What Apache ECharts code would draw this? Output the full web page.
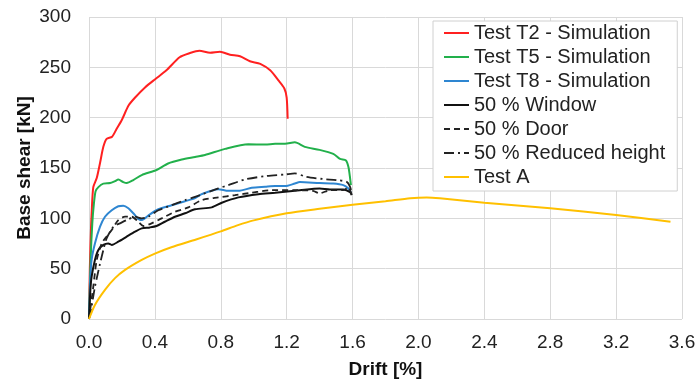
<!DOCTYPE html>
<html>
<head>
<meta charset="utf-8">
<script src="https://cdn.jsdelivr.net/npm/echarts@6/dist/echarts.min.js"></script>
<style>html,body{margin:0;padding:0;background:#fff}#c{width:697px;height:381px}</style>
</head>
<body>
<div id="c"></div>
<script>
const seriesNames = ["Test T2 - Simulation","Test T5 - Simulation","Test T8 - Simulation","50 % Window","50 % Door","50 % Reduced height","Test A"];
const xTicks = [0,0.4,0.8,1.2,1.6,2.0,2.4,2.8,3.2,3.6];
const yTicks = [0,50,100,150,200,250,300];

const testT2 = [[0,0],[0.005,50],[0.012,90],[0.016,105],[0.026,131],[0.047,140],[0.067,155],[0.087,171],[0.107,179],[0.14,181],[0.168,189],[0.2,198],[0.24,212],[0.28,220],[0.34,230],[0.4,238],[0.47,247],[0.55,260],[0.61,264],[0.67,266.5],[0.735,264.5],[0.795,265.5],[0.856,262.5],[0.917,261],[0.977,256],[1.04,253.5],[1.1,247],[1.15,237],[1.186,229],[1.2,220],[1.206,199]];
const testT5 = [[0,0],[0.01,60],[0.02,95],[0.03,115],[0.04,127],[0.057,131],[0.087,134.5],[0.128,135],[0.158,137],[0.178,138.5],[0.208,136],[0.229,135],[0.269,138],[0.32,143],[0.41,148],[0.48,154.5],[0.563,158.4],[0.644,161],[0.704,163],[0.826,169],[0.967,173.5],[1.07,173.3],[1.13,174],[1.19,174],[1.25,175.5],[1.31,171],[1.4,168],[1.483,164],[1.524,159],[1.56,157.5],[1.575,151],[1.585,140],[1.59,133]];
const testT8 = [[0,0],[0.008,40],[0.016,59],[0.036,75],[0.067,91.7],[0.097,101.6],[0.138,108],[0.178,112],[0.208,112.5],[0.239,110],[0.269,105],[0.31,98.3],[0.33,99],[0.37,104],[0.421,109],[0.502,113],[0.583,117],[0.644,120],[0.684,124],[0.785,129],[0.846,127.3],[0.907,127.3],[0.988,130.3],[1.069,131.3],[1.13,132],[1.19,132],[1.25,134.6],[1.28,136],[1.4,135],[1.483,134.6],[1.544,133],[1.575,129.7],[1.589,126]];
const window50 = [[0,0],[0.008,28],[0.016,42],[0.036,58.7],[0.057,68.6],[0.087,73.6],[0.117,75],[0.138,73.6],[0.178,76.8],[0.229,81.8],[0.28,86.7],[0.32,90],[0.37,91],[0.41,92.4],[0.46,96.6],[0.522,101.6],[0.583,105],[0.644,109],[0.745,110.9],[0.806,115.5],[0.907,120.8],[1.028,124],[1.13,125.4],[1.25,127.4],[1.28,128],[1.4,129.7],[1.463,128.7],[1.544,128.7],[1.585,126],[1.595,123]];
const door50 = [[0,0],[0.012,15],[0.026,32],[0.047,58.7],[0.077,75],[0.107,82],[0.138,88.4],[0.178,98.3],[0.219,101.6],[0.259,101.6],[0.3,96.6],[0.33,92.4],[0.38,95],[0.441,100],[0.522,106.5],[0.603,110.9],[0.684,118],[0.785,120.8],[0.886,123],[0.988,125.4],[1.11,128],[1.25,128],[1.36,127.3],[1.4,124.8],[1.463,128],[1.544,128],[1.575,131],[1.595,123]];
const reduced50 = [[0,0],[0.016,12.5],[0.036,32],[0.067,55],[0.087,68.6],[0.107,80],[0.148,91.7],[0.188,95],[0.229,98.3],[0.28,101.6],[0.32,100],[0.36,101.6],[0.421,108],[0.502,113],[0.583,118],[0.644,121.4],[0.785,129.7],[0.846,133],[0.947,138.6],[1.069,141.9],[1.19,143.6],[1.25,144.6],[1.32,141.2],[1.423,139],[1.504,138],[1.565,136.2],[1.585,131.3],[1.595,124.8]];
const testA = [[0,0],[0.036,14],[0.097,29],[0.158,40.6],[0.219,48.8],[0.32,58.7],[0.4,65],[0.5,71.3],[0.65,79],[0.8,87],[0.9,93],[1.0,98],[1.2,105],[1.4,109.5],[1.6,113.5],[1.8,117],[1.95,120],[2.05,120.8],[2.13,120],[2.4,115.5],[2.8,110],[3.2,103.3],[3.53,96.6]];

const dataSets = [testT2,testT5,testT8,window50,door50,reduced50,testA];
const colors = ["#ff2020","#22b04b","#2e86d1","#111111","#222222","#222222","#ffc000"];
const types = ["solid","solid","solid","solid",[6,4],[10,4,2,4],"solid"];
const widths = [2,2,2,2,1.8,1.8,2];

const font = "'Liberation Sans', Arial, sans-serif";
const chart = echarts.init(document.getElementById('c'));
chart.setOption({
  animation:false,
  backgroundColor:'#fff',
  grid:{left:89,right:15,top:17,bottom:62,containLabel:false,outerBoundsMode:'none'},
  xAxis:{type:'value',min:xTicks[0],max:xTicks[xTicks.length-1],interval:0.4,
    name:'Drift [%]',nameLocation:'middle',nameGap:41,nameMoveOverlap:false,
    nameTextStyle:{fontFamily:font,fontSize:19,fontWeight:'bold',color:'#111'},
    axisLine:{show:false},axisTick:{show:false},
    axisLabel:{fontFamily:font,fontSize:19,color:'#222',margin:14,formatter:v=>v.toFixed(1)},
    splitLine:{show:true,lineStyle:{color:'#d9d9d9',width:1}}},
  yAxis:{type:'value',min:yTicks[0],max:yTicks[yTicks.length-1],interval:50,
    name:'Base shear [kN]',nameLocation:'middle',nameGap:55,nameMoveOverlap:false,
    nameTextStyle:{fontFamily:font,fontSize:19,fontWeight:'bold',color:'#111'},
    axisLine:{show:false},axisTick:{show:false},
    axisLabel:{fontFamily:font,fontSize:19,color:'#222',margin:18},
    splitLine:{show:true,lineStyle:{color:'#d9d9d9',width:1}}},
  legend:{show:true,orient:'vertical',left:433,top:21,
    backgroundColor:'#fff',borderColor:'#d0d0d0',borderWidth:1,
    padding:[1,12,3,10],itemGap:2,itemWidth:25,itemHeight:14,
    itemStyle:{color:'rgba(0,0,0,0)',borderWidth:0,opacity:0},
    textStyle:{fontFamily:font,fontSize:20,color:'#222',lineHeight:22},
    data:seriesNames},
  series:seriesNames.map((n,i)=>({
    name:n,type:'line',data:dataSets[i],symbol:'none',smooth:0.25,
    lineStyle:{color:colors[i],width:widths[i],type:types[i]},
    itemStyle:{color:colors[i]},z:2
  }))
});
</script>
</body>
</html>
